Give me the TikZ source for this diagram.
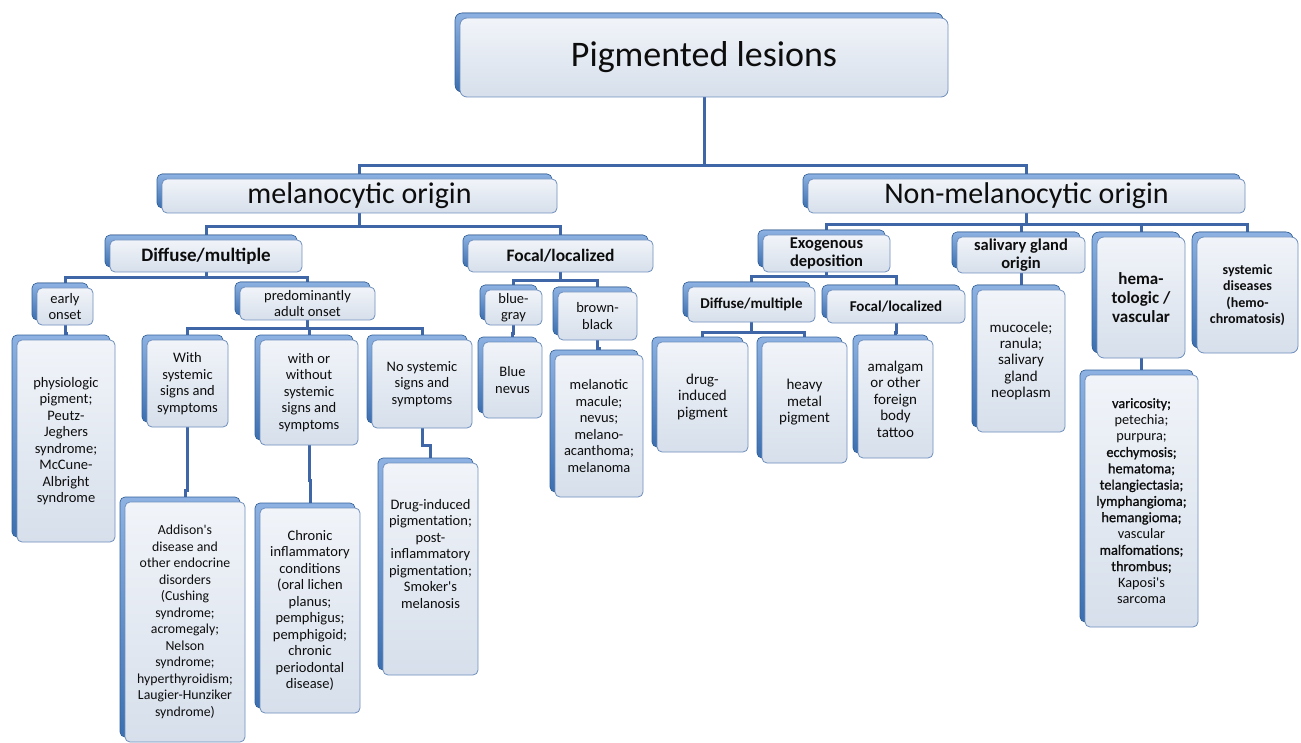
\documentclass[tikz,border=0pt]{standalone}
\usepackage{fontspec}
\setmainfont{Carlito}
\newfontfamily\regfont{Carlito}
\newfontfamily\semibf{Carlito}[FakeBold=1]
\usetikzlibrary{shadows}

\definecolor{exttop}{HTML}{8DB2E2}
\definecolor{extbot}{HTML}{3C6FB0}
\definecolor{extedge}{HTML}{34629D}
\definecolor{facetop}{HTML}{F1F4F9}
\definecolor{facebot}{HTML}{D6DFEB}
\definecolor{faceedge}{HTML}{6F8FBE}
\definecolor{linkblue}{HTML}{3F66A7}
\definecolor{txt}{HTML}{0D0D0D}

\pgfdeclarelayer{bg}
\pgfdeclarelayer{back}
\pgfsetlayers{bg,back,main}

% elbow connector: parent, child, y of the bar
\newcommand{\conn}[3]{\draw [link] (#1.south) -- (#1.south |- 0,#3) -| (#2.north);}

\begin{document}
\begin{tikzpicture}[x=1pt,y=-1pt,
  box/.style={draw=faceedge,line width=0.8pt,rounded corners=5pt,
    top color=facetop,bottom color=facebot,align=center,inner sep=1pt,text=txt,
    copy shadow={shadow xshift=-5pt,shadow yshift=5pt,top color=exttop,
      bottom color=extbot,draw=extedge,line width=0.6pt},
    font=\regfont\fontsize{14.5}{16.5}\selectfont},
  wh/.style 2 args={minimum width=#1pt,minimum height=#2pt},
  hd/.style 2 args={font=\regfont\bfseries\fontsize{#1}{#2}\selectfont},
  link/.style={draw=linkblue,line width=3pt}]

  \begin{pgfonlayer}{bg}
    \fill [white] (0,0) rectangle (1301,743);
  \end{pgfonlayer}
  \useasboundingbox (0,0) rectangle (1301,743);

  % top levels
  \node [box,wh={488}{79},font=\regfont\fontsize{36}{40}\selectfont,rounded corners=7pt] (root) at (704,57.5) {Pigmented lesions};
  \node [box,wh={395}{34},font=\regfont\fontsize{30}{34}\selectfont] (mel) at (359.5,196) {melanocytic origin};
  \node [box,wh={437}{34},font=\regfont\fontsize{30}{34}\selectfont] (nonmel) at (1026.5,196) {Non-melanocytic origin};

  % melanocytic branch
  \node [box,wh={192}{32},hd={19}{21}] (mdiff) at (206,256) {Diffuse/multiple};
  \node [box,wh={185}{32},hd={17.5}{20}] (mfoc) at (560.5,256) {Focal/localized};
  \node [box,wh={56}{37}] (early) at (65,306.5) {early\\onset};
  \node [box,wh={135}{33}] (adult) at (307.5,303.5) {predominantly\\adult onset};
  \node [box,wh={98}{202}] (physio) at (66,441) {physiologic\\pigment;\\Peutz-\\Jeghers\\syndrome;\\McCune-\\Albright\\syndrome};
  \node [box,wh={81}{87}] (withsys) at (187.5,383.5) {With\\systemic\\signs and\\symptoms};
  \node [box,wh={98}{105}] (withor) at (309,392.5) {with or\\without\\systemic\\signs and\\symptoms};
  \node [box,wh={100}{88}] (nosys) at (422,384) {No systemic\\signs and\\symptoms};
  \node [box,wh={120}{240},font=\regfont\fontsize{13.8}{16.5}\selectfont] (addison) at (185,622) {Addison's\\disease and\\other endocrine\\disorders\\(Cushing\\syndrome;\\acromegaly;\\Nelson\\syndrome;\\hyperthyroidism;\\Laugier-Hunziker\\syndrome)};
  \node [box,wh={100}{205}] (chronic) at (310,610.5) {Chronic\\inflammatory\\conditions\\(oral lichen\\planus;\\pemphigus;\\pemphigoid;\\chronic\\periodontal\\disease)};
  \node [box,wh={95}{212}] (drugind) at (430.5,569) {Drug-induced\\pigmentation;\\post-\\inflammatory\\pigmentation;\\Smoker's\\melanosis\\[14pt]};
  \node [box,wh={57}{35}] (bluegray) at (513.5,307.5) {blue-\\gray};
  \node [box,wh={79}{48}] (brownblack) at (597.5,316) {brown-\\black};
  \node [box,wh={59}{76}] (bluenevus) at (512.5,380) {Blue\\nevus};
  \node [box,wh={88}{142}] (melanotic) at (599,426) {melanotic\\macule;\\nevus;\\melano-\\acanthoma;\\melanoma};

  % non-melanocytic branch
  \node [box,wh={127}{37},hd={16.5}{18.5}] (exo) at (826.5,253.5) {Exogenous\\deposition};
  \node [box,wh={128}{36},hd={16.5}{18.5}] (saliv) at (1021,255) {salivary gland\\origin};
  \node [box,wh={88}{121},hd={17}{19},rounded corners=7pt] (hemato) at (1141,297.5) {hema-\\tologic /\\vascular};
  \node [box,wh={101}{116},hd={14}{16.5},rounded corners=7pt] (sysdis) at (1247.5,295) {systemic\\diseases\\(hemo-\\chromatosis)};
  \node [box,wh={127}{35},hd={15}{17}] (xdiff) at (751.5,304.5) {Diffuse/multiple};
  \node [box,wh={138}{33},hd={15}{17}] (xfoc) at (896,306.5) {Focal/localized};
  \node [box,wh={91}{110},font=\regfont\fontsize{15}{16.5}\selectfont] (drugpig) at (702.5,397) {drug-\\induced\\pigment};
  \node [box,wh={85}{121},font=\regfont\fontsize{15}{16.5}\selectfont] (heavy) at (804.5,402.5) {heavy\\metal\\pigment};
  \node [box,wh={75}{118},font=\regfont\fontsize{15}{16.5}\selectfont] (amalgam) at (895.5,399) {amalgam\\or other\\foreign\\body\\tattoo};
  \node [box,wh={88}{142},font=\regfont\fontsize{15}{16.5}\selectfont] (mucocele) at (1021,361) {mucocele;\\ranula;\\salivary\\gland\\neoplasm};
  \node [box,wh={113}{252},font=\regfont\fontsize{14.3}{16.3}\selectfont] (vari) at (1141.5,501) {{\semibf varicosity;}\\petechia;\\purpura;\\{\semibf ecchymosis;}\\{\semibf hematoma;}\\{\semibf telangiectasia;}\\{\semibf lymphangioma;}\\{\semibf hemangioma;}\\vascular\\{\semibf malfomations;}\\{\semibf thrombus;}\\Kaposi's\\sarcoma};

  % connectors
  \begin{pgfonlayer}{back}
    \conn{root}{mel}{166}
    \conn{root}{nonmel}{166}
    \conn{mel}{mdiff}{227}
    \conn{mel}{mfoc}{227}
    \conn{mdiff}{early}{278}
    \conn{mdiff}{adult}{278}
    \conn{early}{physio}{333}
    \conn{adult}{withsys}{328}
    \conn{adult}{withor}{328}
    \conn{adult}{nosys}{328}
    \conn{withsys}{addison}{490}
    \conn{withor}{chronic}{480}
    \conn{nosys}{drugind}{445}
    \conn{mfoc}{bluegray}{281}
    \conn{mfoc}{brownblack}{281}
    \conn{bluegray}{bluenevus}{333}
    \conn{brownblack}{melanotic}{348}
    \conn{nonmel}{exo}{225}
    \conn{nonmel}{saliv}{225}
    \conn{nonmel}{hemato}{225}
    \conn{nonmel}{sysdis}{225}
    \conn{exo}{xdiff}{277}
    \conn{exo}{xfoc}{277}
    \conn{xdiff}{drugpig}{332}
    \conn{xdiff}{heavy}{332}
    \conn{xfoc}{amalgam}{332}
    \conn{saliv}{mucocele}{282}
    \conn{hemato}{vari}{366}
  \end{pgfonlayer}
\end{tikzpicture}
\end{document}
